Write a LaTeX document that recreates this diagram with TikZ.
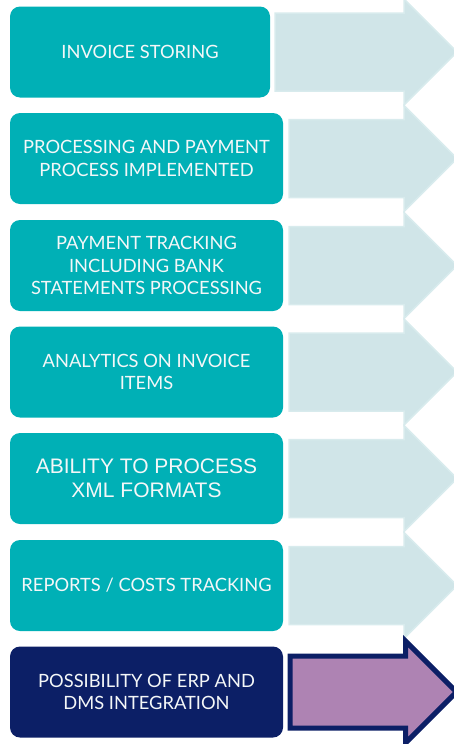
\documentclass[tikz,border=0pt]{standalone}
\usepackage{fontspec}
\setmainfont{Lato}
\newfontfamily\arialfont{Liberation Sans}
\definecolor{tealbox}{HTML}{00B0B6}
\definecolor{lightarrow}{HTML}{D0E5E8}
\definecolor{lightedge}{HTML}{D8EBED}
\definecolor{navy}{HTML}{0C1F66}
\definecolor{purplefill}{HTML}{AE83B3}
\definecolor{textwhite}{HTML}{F4F7F8}
\begin{document}
\begin{tikzpicture}[x=1pt,y=-1pt,
  box/.style={rounded corners=10pt, fill=tealbox, draw=none, text=textwhite,
    align=center, inner sep=0pt, minimum height=91pt,
    font=\fontsize{18.3}{22.7}\selectfont},
  lightarr/.style={fill=lightarrow, draw=lightedge, line width=1.5pt},
  darkarr/.style={fill=purplefill, draw=navy, line width=5pt, line join=miter}]
\useasboundingbox (0,0) rectangle (454,744);
% arrows (behind)
\foreach \s/\c in {275/52, 289/158.5, 289/265.5, 289/372, 289/478.5, 289/585.5}{
  \draw[lightarr] (\s,\c-39) -- (404,\c-39) -- (404,\c-53) -- (457,\c) -- (404,\c+53) -- (404,\c+39) -- (\s,\c+39) -- cycle;
}
\draw[darkarr] (290,692-36) -- (405.5,692-36) -- (405.5,692-51) -- (456.5,692) -- (405.5,692+51) -- (405.5,692+36) -- (290,692+36) -- cycle;
% boxes
\node[box, minimum width=260pt] (b1) at (140,52) {INVOICE STORING};
\node[box, minimum width=273pt] (b2) at (146.5,158.5) {PROCESSING AND PAYMENT\\PROCESS IMPLEMENTED};
\node[box, minimum width=273pt] (b3) at (146.5,265.5) {PAYMENT TRACKING\\INCLUDING BANK\\STATEMENTS PROCESSING};
\node[box, minimum width=273pt] (b4) at (146.5,372) {ANALYTICS ON INVOICE\\ITEMS};
\node[box, minimum width=273pt, font=\arialfont\fontsize{21}{24}\selectfont] (b5) at (146.5,478.5) {ABILITY TO PROCESS\\XML FORMATS};
\node[box, minimum width=273pt] (b6) at (146.5,585.5) {REPORTS / COSTS TRACKING};
\node[box, minimum width=273pt, fill=navy] (b7) at (146.5,692) {POSSIBILITY OF ERP AND\\DMS INTEGRATION};
\end{tikzpicture}
\end{document}
